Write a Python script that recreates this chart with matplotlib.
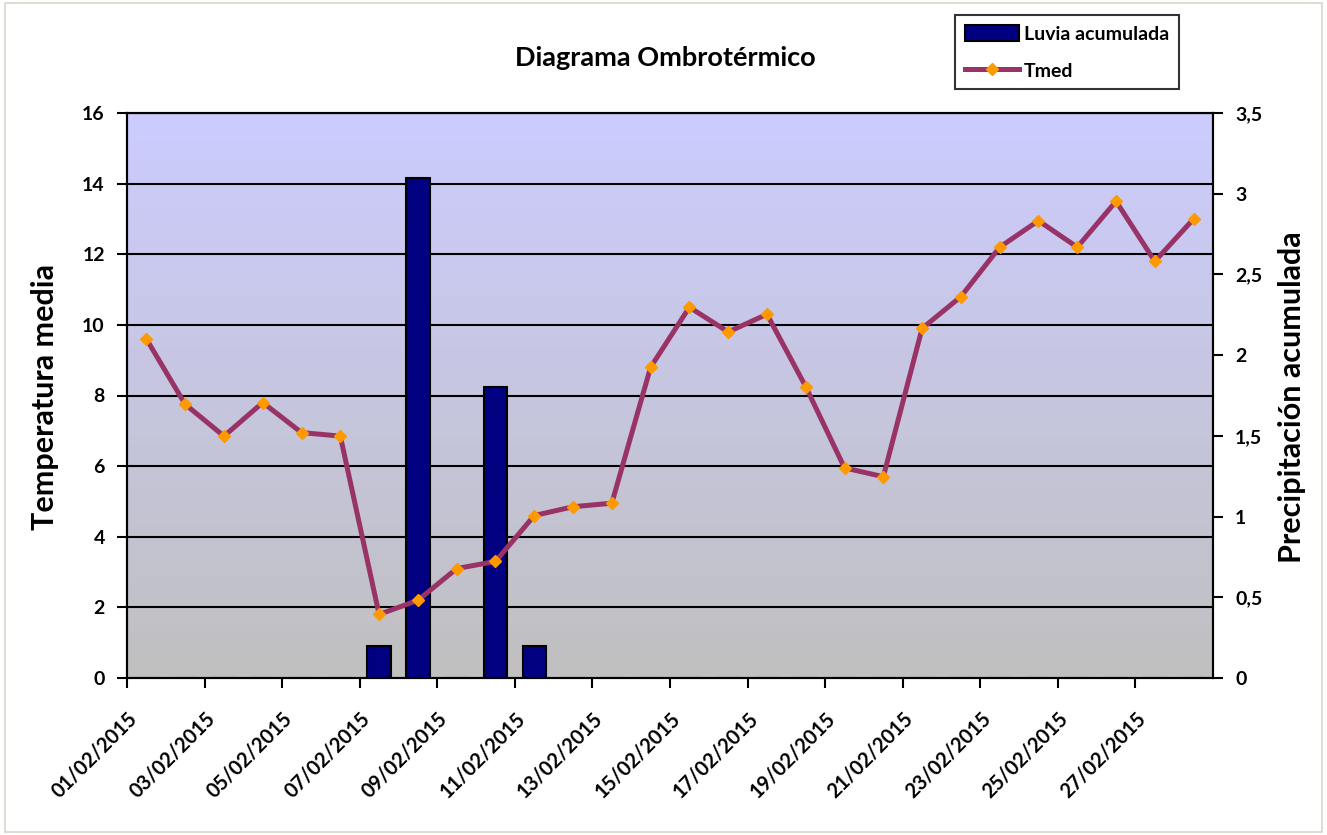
import matplotlib
matplotlib.use("Agg")
import matplotlib.pyplot as plt
import numpy as np
from matplotlib.patches import Rectangle
from matplotlib.lines import Line2D
from matplotlib.patches import Patch

plt.rcParams['font.family'] = ['Lato', 'DejaVu Sans']

dates = [f"{d:02d}/02/2015" for d in range(1, 29)]
tmed = [9.6, 7.75, 6.85, 7.8, 6.95, 6.85, 1.8, 2.2, 3.1, 3.3, 4.6, 4.85, 4.95, 8.8,
        10.5, 9.8, 10.3, 8.25, 5.95, 5.7, 9.9, 10.8, 12.2, 12.95, 12.2, 13.5, 11.8, 13.0]
lluvia = [0, 0, 0, 0, 0, 0, 0.2, 3.1, 0, 1.8, 0.2, 0, 0, 0,
          0, 0, 0, 0, 0, 0, 0, 0, 0, 0, 0, 0, 0, 0]
left_ticks = [0, 2, 4, 6, 8, 10, 12, 14, 16]
right_ticks = [0, 0.5, 1, 1.5, 2, 2.5, 3, 3.5]
right_labels = ["0", "0,5", "1", "1,5", "2", "2,5", "3", "3,5"]

W, H = 1327, 835
fig = plt.figure(figsize=(W / 100, H / 100), dpi=100)
fig.patch.set_facecolor('white')
# outer chart border
fig.patches.append(Rectangle((5 / W, 1 - 832 / H), (1322 - 5) / W, (832 - 3) / H,
                             transform=fig.transFigure, fill=False,
                             edgecolor='#D9D6CB', linewidth=1.2))

L, R, T, B = 127, 1213, 113, 678
ax = fig.add_axes([L / W, 1 - B / H, (R - L) / W, (B - T) / H])
ax2 = ax.twinx()

x = np.arange(len(dates))
n = len(dates)

# gradient background
grad = np.linspace(0, 1, 256).reshape(-1, 1)
top = np.array([204, 204, 255]) / 255
bot = np.array([192, 192, 192]) / 255
img = top[None, None, :] * (1 - grad[:, :, None]) + bot[None, None, :] * grad[:, :, None]
ax.imshow(img, extent=[-0.5, n - 0.5, 0, 16], aspect='auto', zorder=0)

ax.set_xlim(-0.5, n - 0.5)
ax.set_ylim(0, 16)
ax.set_yticks(left_ticks)
for v in left_ticks[1:]:
    ax.axhline(v, color='black', linewidth=1.5, zorder=1)

# bars on secondary axis
ax2.set_ylim(0, 3.5)
ax2.bar(x, lluvia, width=0.6, color='#000080', edgecolor='black', linewidth=1.5, zorder=3)
ax2.set_yticks(right_ticks)
ax2.set_yticklabels(right_labels)

# line on top
ax3 = ax.twinx()
ax3.set_ylim(0, 16)
ax3.set_xlim(-0.5, n - 0.5)
ax3.plot(x, tmed, color='#993366', linewidth=3.6, marker='D', markersize=6.5,
         markerfacecolor='#FF9900', markeredgecolor='#FF9900', zorder=4)
ax3.axis('off')

tick_pos = np.arange(-0.5, n - 1, 2)
ax.set_xticks(tick_pos)
ax.set_xticklabels(dates[::2], rotation=45, ha='right', va='top',
                   rotation_mode='anchor', fontsize=14.5, fontweight='bold')
ax.tick_params(axis='x', length=7, width=1.5, pad=15)
ax.tick_params(axis='y', length=7, width=1.5, labelsize=14, pad=9)
ax2.tick_params(axis='y', length=7, width=1.5, labelsize=14, pad=9)
for lab in ax.get_yticklabels() + ax2.get_yticklabels():
    lab.set_fontweight('bold')

for a in (ax, ax2):
    for s in a.spines.values():
        s.set_linewidth(1.5)
        s.set_color('black')

fig.text(45 / W, 1 - 397 / H, 'Temperatura media', rotation=90, ha='center', va='center',
         fontsize=22, fontweight='bold')
fig.text(1292 / W, 1 - 397 / H, 'Precipitación acumulada', rotation=90, ha='center',
         va='center', fontsize=22, fontweight='bold')

fig.text(665 / W, 1 - 58 / H, 'Diagrama Ombrotérmico', ha='center', va='center',
         fontsize=19.5, fontweight='bold')

handles = [Patch(facecolor='#000080', edgecolor='black', linewidth=1.5),
           Line2D([0], [0], color='#993366', linewidth=3.6, marker='D', markersize=6.5,
                  markerfacecolor='#FF9900', markeredgecolor='#FF9900')]
leg = fig.legend(handles, ['Luvia acumulada', 'Tmed'], loc='upper left',
                 bbox_to_anchor=(955 / W, 1 - 15 / H), frameon=True, fancybox=False,
                 edgecolor='black', prop={'weight': 'bold', 'size': 14},
                 handlelength=2.8, handleheight=0.9, handletextpad=0.25,
                 borderpad=0.5, labelspacing=1.0, borderaxespad=0)
leg.get_frame().set_linewidth(1.5)

fig.savefig('out.png', dpi=100, facecolor='white')
